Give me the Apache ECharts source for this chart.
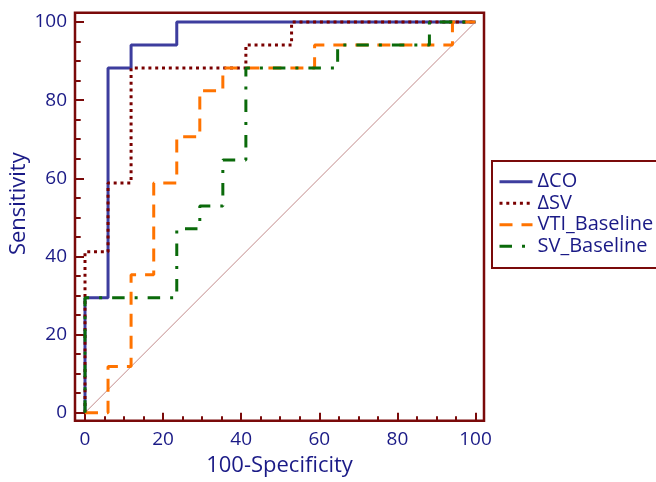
<!DOCTYPE html>
<html>
<head>
<meta charset="utf-8">
<script src="https://cdn.jsdelivr.net/npm/echarts@6/dist/echarts.min.js"></script>
<style>
html,body{margin:0;padding:0;background:#fff;}
#chart{width:656px;height:482px;}
</style>
</head>
<body>
<div id="chart"></div>
<script>
// ---- data ----
const seriesNames = ['ΔCO', 'ΔSV', 'VTI_Baseline', 'SV_Baseline'];
const xTickValues = [0, 20, 40, 60, 80, 100];
const yTickValues = [0, 20, 40, 60, 80, 100];
const xMinorTicks = [5, 10, 15, 25, 30, 35, 45, 50, 55, 65, 70, 75, 85, 90, 95];
const yMinorTicks = [5, 10, 15, 25, 30, 35, 45, 50, 55, 65, 70, 75, 85, 90, 95];

const coFpr  = [0, 0, 5.9, 5.9, 11.8, 11.8, 23.5, 23.5, 100];
const coSens = [0, 29.4, 29.4, 88.2, 88.2, 94.1, 94.1, 100, 100];

const svFpr  = [0, 0, 5.9, 5.9, 11.8, 11.8, 41.2, 41.2, 52.9, 52.9, 100];
const svSens = [0, 41.2, 41.2, 58.8, 58.8, 88.2, 88.2, 94.1, 94.1, 100, 100];

const vtiFpr  = [0, 5.9, 5.9, 11.8, 11.8, 17.6, 17.6, 23.5, 23.5, 29.4, 29.4, 35.3, 35.3, 58.8, 58.8, 94.1, 94.1, 100];
const vtiSens = [0, 0, 11.8, 11.8, 35.3, 35.3, 58.8, 58.8, 70.6, 70.6, 82.4, 82.4, 88.2, 88.2, 94.1, 94.1, 100, 100];

const svbFpr  = [0, 0, 23.5, 23.5, 29.4, 29.4, 35.3, 35.3, 41.2, 41.2, 64.7, 64.7, 88.2, 88.2, 100];
const svbSens = [0, 29.4, 29.4, 47.1, 47.1, 52.9, 52.9, 64.7, 64.7, 88.2, 88.2, 94.1, 94.1, 100, 100];

const refFpr  = [0, 100];
const refSens = [0, 100];

// axis extents (the frame sits slightly outside 0..100)
const X_MIN = -2.56, X_MAX = 102.18;
const Y_MIN = -2.05, Y_MAX = 102.38;

// ---- helpers ----
function pts(xs, ys) { return xs.map((x, i) => [x, ys[i]]); }

const TEXT = '#1a1a86';
const FRAME = '#7a0a0a';
const FONT = '"Open Sans", "Noto Sans", sans-serif';

const chart = echarts.init(document.getElementById('chart'), null, {renderer: 'canvas'});

const option = {
  animation: false,
  backgroundColor: '#ffffff',
  grid: {
    left: 75, right: 172, top: 12.7, bottom: 61.3,
    show: true, borderColor: FRAME, borderWidth: 2.5, backgroundColor: 'transparent',
    outerBoundsMode: 'none'
  },
  xAxis: [
    {
      type: 'value', min: X_MIN, max: X_MAX, position: 'bottom',
      name: '100-Specificity', nameLocation: 'middle', nameGap: 34, nameMoveOverlap: false,
      nameTextStyle: { color: TEXT, fontSize: 22, fontFamily: FONT },
      axisLine: { show: false, onZero: false },
      axisTick: { show: true, inside: true, length: 8, customValues: xTickValues,
        lineStyle: { color: FRAME, width: 2 } },
      splitLine: { show: false },
      axisLabel: { color: TEXT, fontSize: 19, fontFamily: FONT, margin: 9, customValues: xTickValues }
    },
    {
      type: 'value', min: X_MIN, max: X_MAX, position: 'bottom',
      axisLine: { show: false, onZero: false },
      axisTick: { show: true, inside: true, length: 4.5, customValues: xMinorTicks,
        lineStyle: { color: FRAME, width: 2 } },
      splitLine: { show: false },
      axisLabel: { show: false }
    }
  ],
  yAxis: [
    {
      type: 'value', min: Y_MIN, max: Y_MAX, position: 'left',
      name: 'Sensitivity', nameLocation: 'middle', nameGap: 45, nameRotate: 90, nameMoveOverlap: false,
      nameTextStyle: { color: TEXT, fontSize: 22, fontFamily: FONT, padding: [0, 0, 0, 26] },
      axisLine: { show: false, onZero: false },
      axisTick: { show: true, inside: true, length: 9, customValues: yTickValues,
        lineStyle: { color: FRAME, width: 2 } },
      splitLine: { show: false },
      axisLabel: { color: TEXT, fontSize: 19, fontFamily: FONT, margin: 8, customValues: yTickValues }
    },
    {
      type: 'value', min: Y_MIN, max: Y_MAX, position: 'left',
      axisLine: { show: false, onZero: false },
      axisTick: { show: true, inside: true, length: 5.7, customValues: yMinorTicks,
        lineStyle: { color: FRAME, width: 2 } },
      splitLine: { show: false },
      axisLabel: { show: false }
    }
  ],
  legend: {
    orient: 'vertical', left: 492, top: 161,
    padding: [10, 40, 11, 6],
    itemWidth: 33, itemHeight: 14, itemGap: 0,
    borderColor: FRAME, borderWidth: 2, backgroundColor: '#fff',
    itemStyle: { opacity: 0 },
    lineStyle: { width: 3 },
    textStyle: { color: TEXT, fontSize: 20, fontFamily: FONT, lineHeight: 21.5 },
    data: seriesNames
  },
  series: [
    {
      name: 'ref', type: 'line', data: pts(refFpr, refSens), symbol: 'none', silent: true,
      lineStyle: { color: '#a85858', width: 0.7 }, z: 1
    },
    {
      name: seriesNames[0], type: 'line', data: pts(coFpr, coSens), symbol: 'none', color: '#3d3d9e',
      lineStyle: { color: '#3d3d9e', width: 3 }, z: 2
    },
    {
      name: seriesNames[1], type: 'line', data: pts(svFpr, svSens), symbol: 'none', color: '#7a0000',
      lineStyle: { color: '#7a0000', width: 3, type: [3, 3.8], cap: 'butt' }, z: 3
    },
    {
      name: seriesNames[2], type: 'line', data: pts(vtiFpr, vtiSens), symbol: 'none', color: '#ff7300',
      lineStyle: { color: '#ff7300', width: 3, type: [13, 9], cap: 'butt' }, z: 4
    },
    {
      name: seriesNames[3], type: 'line', data: pts(svbFpr, svbSens), symbol: 'none', color: '#0a6a0a',
      lineStyle: { color: '#0a6a0a', width: 3, type: [12.5, 10, 3, 10], cap: 'butt' }, z: 5
    }
  ]
};

chart.setOption(option);
</script>
</body>
</html>
